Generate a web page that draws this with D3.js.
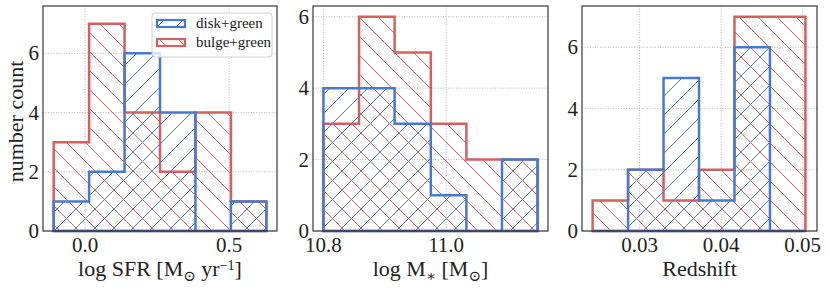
<!DOCTYPE html>
<html>
<head>
<meta charset="utf-8">
<script src="https://d3js.org/d3.v7.min.js"></script>
<style>
  body { margin: 0; background: #fff; }
</style>
</head>
<body>
<script>
// bin edges and counts
const sfrEdges = [-0.109, 0.014, 0.137, 0.260, 0.383, 0.506, 0.629];
const sfrDisk = [1, 2, 6, 4, 0, 1];
const sfrBulge = [3, 7, 4, 2, 4, 1];

const massEdges = [10.800, 10.858, 10.916, 10.975, 11.033, 11.091, 11.149];
const massDisk = [4, 4, 3, 1, 0, 2];
const massBulge = [3, 6, 5, 3, 2, 2];

const zEdges = [0.02423, 0.02858, 0.03293, 0.03728, 0.04163, 0.04598, 0.05033];
const zDisk = [0, 2, 5, 1, 6, 0];
const zBulge = [1, 2, 1, 2, 7, 7];

const sfrTicks = [0.0, 0.5];
const massTicks = [10.8, 11.0];
const zTicks = [0.03, 0.04, 0.05];
const countTicks = [0, 2, 4, 6];

const legendLabels = ["disk+green", "bulge+green"];

const blue = "#4878d0", red = "#d65f5f";
const width = 830, height = 289;
const serif = "'Liberation Serif', 'Times New Roman', Tinos, 'DejaVu Serif', serif";

const svg = d3.select("body").append("svg")
  .attr("width", width).attr("height", height)
  .attr("font-family", serif);

// hatch patterns
const defs = svg.append("defs");
const hp = 19;
function hatch(id, color, d) {
  defs.append("pattern")
    .attr("id", id).attr("patternUnits", "userSpaceOnUse")
    .attr("width", hp).attr("height", hp)
    .append("path").attr("d", d)
    .attr("stroke", color).attr("stroke-width", 1).attr("fill", "none");
}
hatch("hBlue", blue, `M0,${hp} L${hp},0 M-2,2 L2,-2 M${hp - 2},${hp + 2} L${hp + 2},${hp - 2}`);
hatch("hRed", red, `M0,0 L${hp},${hp} M-2,${hp - 2} L2,${hp + 2} M${hp - 2},-2 L${hp + 2},2`);

const panels = [
  { x0: 43, x1: 277, dom: [-0.146, 0.666], yMax: 7.6, edges: sfrEdges, disk: sfrDisk, bulge: sfrBulge,
    ticks: sfrTicks, fmt: d3.format(".1f"), label: "sfr", ylabel: true, legend: true },
  { x0: 313, x1: 548, dom: [10.783, 11.166], yMax: 6.3, edges: massEdges, disk: massDisk, bulge: massBulge,
    ticks: massTicks, fmt: d3.format(".1f"), label: "mass" },
  { x0: 582, x1: 817, dom: [0.02293, 0.05175], yMax: 7.35, edges: zEdges, disk: zDisk, bulge: zBulge,
    ticks: zTicks, fmt: d3.format(".2f"), label: "z" }
];

const yTop = 6, yBottom = 231;

panels.forEach(p => {
  const x = d3.scaleLinear().domain(p.dom).range([p.x0, p.x1]);
  const y = d3.scaleLinear().domain([0, p.yMax]).range([yBottom, yTop]);
  const g = svg.append("g");

  // grid
  g.selectAll(".gx").data(p.ticks).enter().append("line")
    .attr("x1", d => x(d)).attr("x2", d => x(d)).attr("y1", yTop).attr("y2", yBottom)
    .attr("stroke", "#b0b0b0").attr("stroke-width", 0.9).attr("stroke-dasharray", "1,1.6");
  g.selectAll(".gy").data(countTicks).enter().append("line")
    .attr("x1", p.x0).attr("x2", p.x1).attr("y1", d => y(d)).attr("y2", d => y(d))
    .attr("stroke", "#b0b0b0").attr("stroke-width", 0.9).attr("stroke-dasharray", "1,1.6");

  // histograms
  const line = d3.line().x(d => x(d[0])).y(d => y(d[1]));
  function steps(edges, counts) {
    const pts = [[edges[0], 0]];
    counts.forEach((c, i) => { pts.push([edges[i], c]); pts.push([edges[i + 1], c]); });
    pts.push([edges[edges.length - 1], 0]);
    return line(pts) + "Z";
  }
  [[p.bulge, red, "hRed"], [p.disk, blue, "hBlue"]].forEach(([counts, col, pat]) => {
    g.append("path").attr("d", steps(p.edges, counts))
      .attr("fill", `url(#${pat})`).attr("stroke", col)
      .attr("stroke-width", 2.5).attr("stroke-linejoin", "miter");
  });

  // frame
  g.append("rect").attr("x", p.x0).attr("y", yTop)
    .attr("width", p.x1 - p.x0).attr("height", yBottom - yTop)
    .attr("fill", "none").attr("stroke", "#262626").attr("stroke-width", 1.1);

  // tick labels
  g.selectAll(".tx").data(p.ticks).enter().append("text")
    .attr("x", d => x(d)).attr("y", 252).attr("text-anchor", "middle")
    .attr("font-size", 21).attr("fill", "#222").text(d => p.fmt(d));
  g.selectAll(".ty").data(countTicks).enter().append("text")
    .attr("x", p.x0 - 4).attr("y", d => y(d) + 7).attr("text-anchor", "end")
    .attr("font-size", 21).attr("fill", "#222").text(d => d);

  // axis label
  const xl = g.append("text").attr("x", (p.x0 + p.x1) / 2).attr("y", 276)
    .attr("text-anchor", "middle").attr("font-size", 22).attr("fill", "#222");
  if (p.label === "sfr") {
    xl.append("tspan").text("log SFR [M");
    xl.append("tspan").attr("dy", 5).attr("font-size", 15).text("\u2299");
    xl.append("tspan").attr("dy", -5).text(" yr");
    xl.append("tspan").attr("dy", -6).attr("font-size", 14).text("\u22121");
    xl.append("tspan").attr("dy", 6).text("]");
  } else if (p.label === "mass") {
    xl.append("tspan").text("log M");
    xl.append("tspan").attr("dy", 5).attr("font-size", 15).text("\u2217");
    xl.append("tspan").attr("dy", -5).text(" [M");
    xl.append("tspan").attr("dy", 5).attr("font-size", 15).text("\u2299");
    xl.append("tspan").attr("dy", -5).text("]");
  } else {
    xl.text("Redshift");
  }

  if (p.ylabel) {
    g.append("text").attr("transform", `translate(23,${(yTop + yBottom) / 2 + 3}) rotate(-90)`)
      .attr("text-anchor", "middle").attr("font-size", 22).attr("fill", "#222").text("number count");
  }

  if (p.legend) {
    const lg = g.append("g").attr("transform", "translate(152,13)");
    lg.append("rect").attr("width", 120).attr("height", 44).attr("rx", 3)
      .attr("fill", "#fff").attr("fill-opacity", 0.8)
      .attr("stroke", "#d0d0d0").attr("stroke-width", 1);
    const items = [[blue, "hBlue"], [red, "hRed"]];
    items.forEach(([col, pat], i) => {
      lg.append("rect").attr("x", 5).attr("y", 7 + i * 19).attr("width", 28).attr("height", 7)
        .attr("fill", `url(#${pat})`).attr("stroke", col).attr("stroke-width", 2.2);
      lg.append("text").attr("x", 44).attr("y", 15 + i * 19).attr("font-size", 15)
        .attr("fill", "#222").text(legendLabels[i]);
    });
  }
});
</script>
</body>
</html>
